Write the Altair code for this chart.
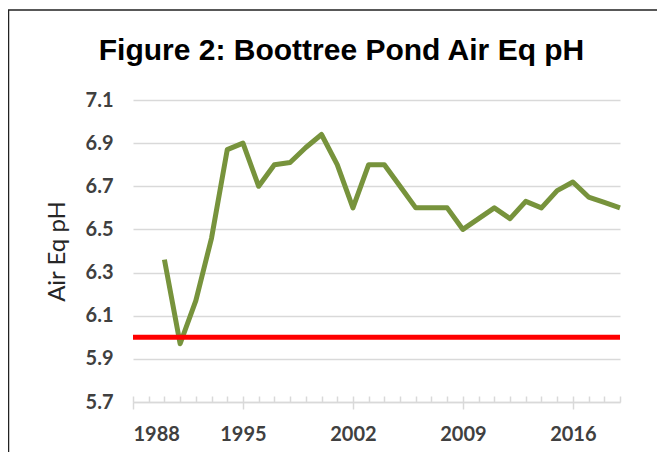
import altair as alt
import pandas as pd

years = list(range(1990, 2020))
ph = [6.36, 5.97, 6.17, 6.46, 6.87, 6.90, 6.70, 6.80, 6.81, 6.88,
      6.94, 6.80, 6.60, 6.80, 6.80, 6.70, 6.60, 6.60, 6.60, 6.50,
      6.55, 6.60, 6.55, 6.63, 6.60, 6.68, 6.72, 6.65, 6.625, 6.60]
threshold_years = [1988, 2019]
threshold_ph = [6.0, 6.0]
x_ticks = [1988, 1995, 2002, 2009, 2016]
minor_ticks = list(range(1988, 2020))
y_ticks = [5.7, 5.9, 6.1, 6.3, 6.5, 6.7, 6.9, 7.1]
title_text = "Figure 2: Boottree Pond Air Eq pH"

W, H = 487, 302
xs = alt.Scale(domain=[1988, 2019], nice=False, zero=False)
ys = alt.Scale(domain=[5.7, 7.1], nice=False, zero=False)

df = pd.DataFrame({"Year": years, "pH": ph})
tf = pd.DataFrame({"Year": threshold_years, "pH": threshold_ph})

LABEL_FONT = "Lato"
GRID = "#d9d9d9"

line = alt.Chart(df).mark_line(color="#77933c", strokeWidth=5, strokeJoin="round").encode(
    x=alt.X("Year:Q", scale=xs, axis=alt.Axis(
        values=x_ticks, format="d", title=None, grid=False,
        domainColor=GRID, domainWidth=1.5, tickColor=GRID, tickWidth=1.5, tickSize=7,
        labelFont=LABEL_FONT, labelFontWeight="bold", labelFontSize=20, labelColor="#404040",
        labelPadding=15)),
    y=alt.Y("pH:Q", scale=ys, axis=alt.Axis(
        values=y_ticks, format=".1f", title="Air Eq pH", grid=True, gridColor=GRID, gridWidth=1.5,
        domain=False, ticks=False,
        labelFont=LABEL_FONT, labelFontWeight="bold", labelFontSize=20, labelColor="#404040",
        labelPadding=20,
        titleFont=LABEL_FONT, titleFontWeight="normal", titleFontSize=24, titleColor="#262626",
        titlePadding=16)),
)

red = alt.Chart(tf).mark_line(color="#ff0000", strokeWidth=5).encode(
    x=alt.X("Year:Q", scale=xs, axis=alt.Axis(
        orient="top", values=minor_ticks, labels=False, domain=False, grid=False, title=None,
        tickColor=GRID, tickWidth=1.5, tickSize=6, offset=-H)),
    y=alt.Y("pH:Q", scale=ys, axis=None),
)

one = pd.DataFrame({"k": [0]})
border = alt.Chart(one).mark_rect(
    fill="white", fillOpacity=0, stroke="#222222", strokeWidth=1.5).encode(
    x=alt.value(-124.5), x2=alt.value(W + 80), y=alt.value(-90), y2=alt.value(H + 90))

title = alt.Chart(one).mark_text(
    font="Liberation Sans", fontSize=30, fontWeight="bold", color="#000000",
    align="center", baseline="alphabetic").encode(
    x=alt.value(208.5), y=alt.value(-40), text=alt.value(title_text))

chart = alt.layer(border, line, red, title).resolve_axis(x="independent", y="independent").properties(
    width=W, height=H,
    autosize=alt.AutoSizeParams(type="none"),
    padding={"left": 125, "top": 92, "right": 37, "bottom": 50},
    background="white",
).configure_view(stroke=None)

chart.save("out.html", embed_options={"renderer": "svg", "actions": False})
